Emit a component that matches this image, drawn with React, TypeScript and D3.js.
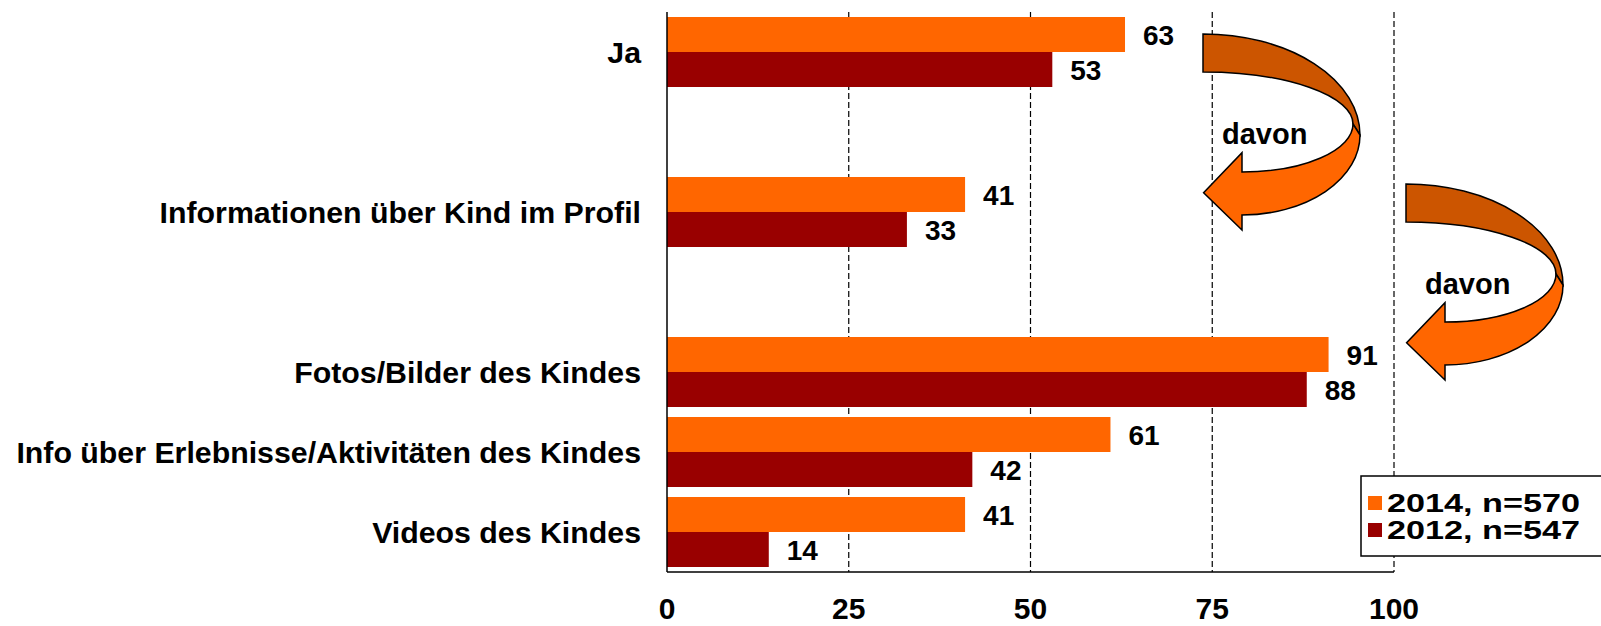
import React, { useEffect, useRef } from "react";
import * as d3 from "d3";

// categories, blank slots keep the gaps between the groups
const categories = [
  "Ja",
  "gap1",
  "Informationen über Kind im Profil",
  "gap2",
  "Fotos/Bilder des Kindes",
  "Info über Erlebnisse/Aktivitäten des Kindes",
  "Videos des Kindes",
];
const seriesNames = ["2014, n=570", "2012, n=547"];
const values2014 = [63, null, 41, null, 91, 61, 41];
const values2012 = [53, null, 33, null, 88, 42, 14];
const xTicks = [0, 25, 50, 75, 100];
const colors = ["#FF6600", "#990000"];

const FONT = "'Liberation Sans', Arial, sans-serif";

const Chart = () => {
  const ref = useRef<SVGSVGElement>(null);

  useEffect(() => {
    const width = 1601;
    const height = 626;
    const svg = d3.select(ref.current);
    svg.selectAll("*").remove();
    svg.attr("width", width).attr("height", height);

    const x = d3.scaleLinear().domain([0, 100]).range([667, 1394]);
    const y = d3
      .scaleBand()
      .domain(categories)
      .range([12, 572])
      .paddingInner(0.125)
      .paddingOuter(0.0625);
    const ySub = d3.scaleBand().domain(seriesNames).range([0, y.bandwidth()]);

    // dashed grid lines
    svg
      .append("g")
      .selectAll("line")
      .data(xTicks.slice(1))
      .join("line")
      .attr("x1", (d) => x(d))
      .attr("x2", (d) => x(d))
      .attr("y1", 12)
      .attr("y2", 572)
      .attr("stroke", "#000")
      .attr("stroke-width", 1.2)
      .attr("stroke-dasharray", "6,3");

    const rows = categories.map((c, i) => ({
      cat: c,
      vals: [values2014[i], values2012[i]],
    }));

    const groups = svg
      .append("g")
      .selectAll("g")
      .data(rows.filter((r) => r.vals[0] !== null))
      .join("g")
      .attr("transform", (d) => `translate(0,${y(d.cat)})`);

    const bars = groups
      .selectAll("g")
      .data((d) => d.vals.map((v, i) => ({ v: v as number, s: seriesNames[i], i })))
      .join("g");

    bars
      .append("rect")
      .attr("x", x(0))
      .attr("y", (d) => ySub(d.s)!)
      .attr("width", (d) => x(d.v) - x(0))
      .attr("height", ySub.bandwidth())
      .attr("fill", (d) => colors[d.i]);

    bars
      .append("text")
      .attr("x", (d) => x(d.v) + 18)
      .attr("y", (d) => ySub(d.s)! + ySub.bandwidth() / 2)
      .attr("dy", "0.36em")
      .style("font-family", FONT)
      .style("font-weight", "bold")
      .style("font-size", "28px")
      .text((d) => d.v);

    // category labels
    svg
      .append("g")
      .selectAll("text")
      .data(categories.filter((c) => !c.startsWith("gap")))
      .join("text")
      .attr("x", 641)
      .attr("y", (d) => y(d)! + y.bandwidth() / 2)
      .attr("dy", "0.36em")
      .attr("text-anchor", "end")
      .style("font-family", FONT)
      .style("font-weight", "bold")
      .style("font-size", "30.3px")
      .text((d) => d);

    // axes
    svg
      .append("line")
      .attr("x1", x(0))
      .attr("x2", x(0))
      .attr("y1", 12)
      .attr("y2", 572)
      .attr("stroke", "#000")
      .attr("stroke-width", 1.5);
    svg
      .append("line")
      .attr("x1", x(0))
      .attr("x2", x(100))
      .attr("y1", 572)
      .attr("y2", 572)
      .attr("stroke", "#000")
      .attr("stroke-width", 1.5);

    svg
      .append("g")
      .selectAll("text")
      .data(xTicks)
      .join("text")
      .attr("x", (d) => x(d))
      .attr("y", 619)
      .attr("text-anchor", "middle")
      .style("font-family", FONT)
      .style("font-weight", "bold")
      .style("font-size", "30px")
      .text((d) => d);

    // curved "davon" arrows
    const darkFace = "M0,0 A157,101 0 0 1 157,101 L150,90 A150,52 0 0 0 0,38 Z";
    const lightFace =
      "M157,101 A118,80 0 0 1 39,181 L39,196 L0.6,158.7 L39,118.7 L39,138 A111,48 0 0 0 150,90 Z";
    const arrows = [
      { dx: 1203, dy: 34 },
      { dx: 1406, dy: 184 },
    ];
    const arrowG = svg
      .append("g")
      .selectAll("g")
      .data(arrows)
      .join("g")
      .attr("transform", (d) => `translate(${d.dx},${d.dy})`);
    arrowG
      .append("path")
      .attr("d", darkFace)
      .attr("fill", "#CC5500")
      .attr("stroke", "#000")
      .attr("stroke-width", 1.5);
    arrowG
      .append("path")
      .attr("d", lightFace)
      .attr("fill", "#FF6600")
      .attr("stroke", "#000")
      .attr("stroke-width", 1.5);
    arrowG
      .append("text")
      .attr("x", 19)
      .attr("y", 110)
      .style("font-family", FONT)
      .style("font-weight", "bold")
      .style("font-size", "29px")
      .text("davon");

    // legend
    const legend = svg.append("g");
    legend
      .append("rect")
      .attr("x", 1361)
      .attr("y", 476)
      .attr("width", 260)
      .attr("height", 80)
      .attr("fill", "#fff")
      .attr("stroke", "#000")
      .attr("stroke-width", 1.5);
    const items = legend
      .selectAll("g")
      .data(seriesNames)
      .join("g")
      .attr("transform", (d, i) => `translate(1368,${503 + i * 27})`);
    items
      .append("rect")
      .attr("x", 0)
      .attr("y", -7)
      .attr("width", 14)
      .attr("height", 14)
      .attr("fill", (d, i) => colors[i]);
    items
      .append("text")
      .attr("x", 19)
      .attr("y", 0)
      .attr("dy", "0.36em")
      .attr("textLength", 193)
      .attr("lengthAdjust", "spacingAndGlyphs")
      .style("font-family", FONT)
      .style("font-weight", "bold")
      .style("font-size", "26px")
      .text((d) => d);
  }, []);

  return <svg ref={ref} style={{ position: "absolute", left: 0, top: 0 }} />;
};

export default function App() {
  return <Chart />;
}
